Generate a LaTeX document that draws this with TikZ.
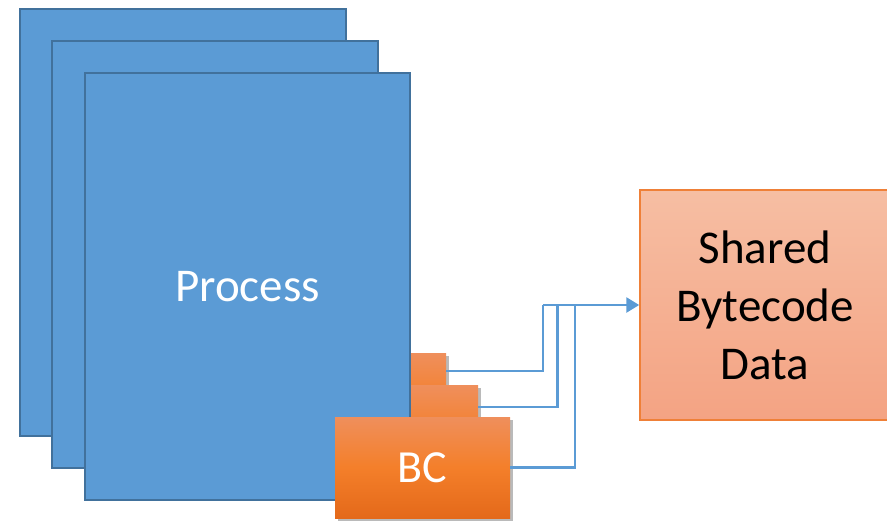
\documentclass[tikz,border=0pt]{standalone}
\usepackage{fontspec}
\setmainfont{Carlito}
\usetikzlibrary{shadows,arrows.meta}
\definecolor{procfill}{HTML}{5B9BD5}
\definecolor{procdraw}{HTML}{41719C}
\definecolor{bctop}{HTML}{EF8F5C}
\definecolor{bcmid}{HTML}{F47F2A}
\definecolor{bcbot}{HTML}{E4691A}
\definecolor{shtop}{HTML}{F6BEA3}
\definecolor{shbot}{HTML}{F4A383}
\definecolor{shdraw}{HTML}{EF8038}
\definecolor{conncol}{HTML}{5B9BD5}
\tikzset{
  procbox/.style={draw=procdraw, fill=procfill, line width=2pt, inner sep=0pt, text=white, font=\fontsize{47}{56}\selectfont},
  bcbox/.style={inner sep=0pt, top color=bctop, bottom color=bcbot, middle color=bcmid, text=white, font=\fontsize{46}{55}\selectfont,
    drop shadow={opacity=0.45, shadow xshift=2.5pt, shadow yshift=-3pt, fill=black!60}},
  sharedbox/.style={draw=shdraw, line width=1.5pt, top color=shtop, bottom color=shbot, inner sep=0pt, align=center, text=black, font=\fontsize{47}{58}\selectfont},
  conn/.style={draw=conncol, line width=2.8pt},
  conntip/.style={conn, -{Triangle[length=13pt,width=15pt]}}
}
\begin{document}
\begin{tikzpicture}[x=1pt,y=-1pt]
\useasboundingbox (0,0) rectangle (887,523);
% back stack
\node[procbox, minimum width=326pt, minimum height=427pt] (p1) at (183,222.5) {};
\node[bcbox, minimum width=175pt, minimum height=101pt] (b1) at (358.5,403.5) {};
\node[procbox, minimum width=326pt, minimum height=427pt] (p2) at (215,254.5) {};
\node[bcbox, minimum width=175pt, minimum height=101pt] (b2) at (390.5,435.5) {};
\node[procbox, minimum width=325pt, minimum height=427pt] (p3) at (247.5,286.5) {Process};
\node[bcbox, minimum width=175pt, minimum height=101pt] (b3) at (422.5,467.5) {BC};
% shared data
\node[sharedbox, minimum width=250pt, minimum height=230pt] (sh) at (765,305) {Shared\\Bytecode\\Data};
% connectors
\coordinate (s1) at (b1.north east |- 0,371);
\coordinate (s2) at (b2.north east |- 0,407);
\coordinate (s3) at (b3.east);
\coordinate (j1) at (543,305);
\coordinate (j2) at (557.5,305);
\coordinate (j3) at (575,305);
\draw[conn] (s1) -| (j1);
\draw[conn] (s2) -| (j2);
\draw[conn] (s3) -| (j3);
\draw[conntip] (j1) -- (sh.west);
\end{tikzpicture}
\end{document}
